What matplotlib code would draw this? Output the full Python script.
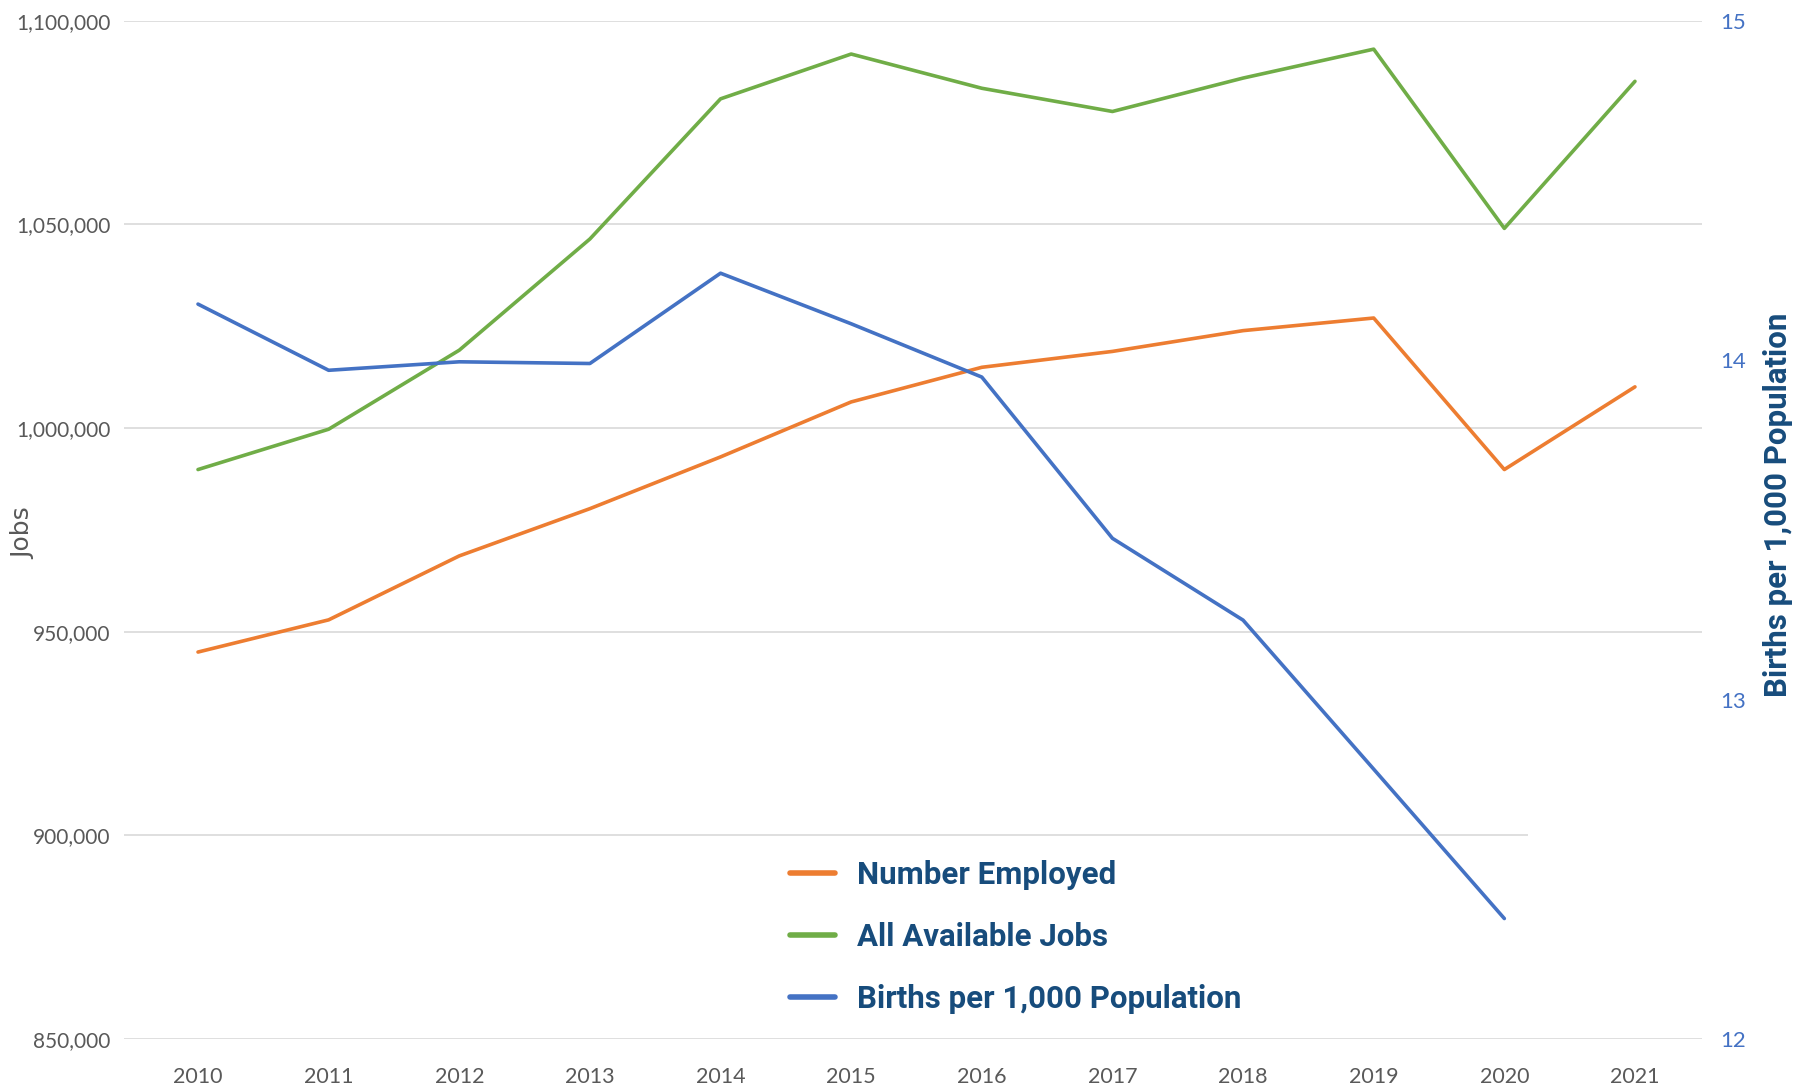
import matplotlib
matplotlib.use("Agg")
import matplotlib.pyplot as plt
from matplotlib.patches import Rectangle
from matplotlib.ticker import FuncFormatter, MultipleLocator

years = [2010, 2011, 2012, 2013, 2014, 2015, 2016, 2017, 2018, 2019, 2020, 2021]
employed = [945000, 952900, 968600, 980200, 992900, 1006400, 1014900, 1018800,
            1023900, 1027000, 989800, 1010100]
all_jobs = [989800, 999700, 1019100, 1046400, 1080800, 1091800, 1083400, 1077700,
            1085900, 1093000, 1049000, 1085100]
birth_years = [2010, 2011, 2012, 2013, 2014, 2015, 2016, 2017, 2018, 2019, 2020]
births = [14.165, 13.97, 13.995, 13.99, 14.256, 14.107, 13.95, 13.475, 13.234, 12.795, 12.355]

ORANGE = "#ED7D31"
GREEN = "#70AD47"
BLUE = "#4472C4"
NAVY = "#174C7C"
GRAY = "#595959"

fig = plt.figure(figsize=(17.98, 10.92), dpi=100)
ax = fig.add_axes([0.069, 0.0485, 0.8776, 0.9326])
ax2 = ax.twinx()

l1, = ax.plot(years, employed, color=ORANGE, lw=2.6, solid_capstyle="round", zorder=3)
l2, = ax.plot(years, all_jobs, color=GREEN, lw=2.6, solid_capstyle="round", zorder=3)
l3, = ax2.plot(birth_years, births, color=BLUE, lw=2.6, solid_capstyle="round", zorder=3)

ax.set_xlim(2009.434, 2021.513)
ax.set_ylim(850000, 1100000)
ax2.set_ylim(12, 15)
ax.yaxis.set_major_locator(MultipleLocator(50000))
ax2.yaxis.set_major_locator(MultipleLocator(1))
ax.set_xticks(years)
ax.yaxis.set_major_formatter(FuncFormatter(lambda v, _: f"{int(v):,}"))

ax.grid(axis="y", color="#D9D9D9", lw=1.2)
ax.set_axisbelow(True)
# gap in the 900,000 gridline on the right side
ax.add_patch(Rectangle((0.890, 0.185), 0.2, 0.03, transform=ax.transAxes,
                       facecolor="white", edgecolor="none", zorder=1))

for a in (ax, ax2):
    for s in a.spines.values():
        s.set_visible(False)
    a.tick_params(length=0)

ax.tick_params(axis="y", labelsize=15, labelcolor=GRAY, pad=10)
ax.tick_params(axis="x", labelsize=15.5, labelcolor=GRAY, pad=20)
ax2.tick_params(axis="y", labelsize=16, labelcolor=BLUE, pad=13)
for lab in ax.get_xticklabels() + ax.get_yticklabels() + ax2.get_yticklabels():
    lab.set_family("Lato")

fig.text(0.0128, 0.512, "Jobs", rotation=90, ha="center", va="center",
         fontsize=18, color=GRAY, family="DejaVu Sans")
fig.text(0.989, 0.5375, "Births per 1,000 Population", rotation=90, ha="center",
         va="center", fontsize=22.5, color=NAVY, family="Roboto", weight="bold")

leg = fig.legend([l1, l2, l3],
                 ["Number Employed", "All Available Jobs", "Births per 1,000 Population"],
                 loc="upper left", bbox_to_anchor=(0.4394, 0.2125), frameon=False,
                 borderpad=0, borderaxespad=0, handlelength=1.45, handletextpad=0.7,
                 labelspacing=1.03, prop={"family": "Roboto", "weight": "bold", "size": 22.5})
for t in leg.get_texts():
    t.set_color(NAVY)
for h in leg.get_lines():
    h.set_linewidth(4)

fig.savefig("out.png", dpi=100)
